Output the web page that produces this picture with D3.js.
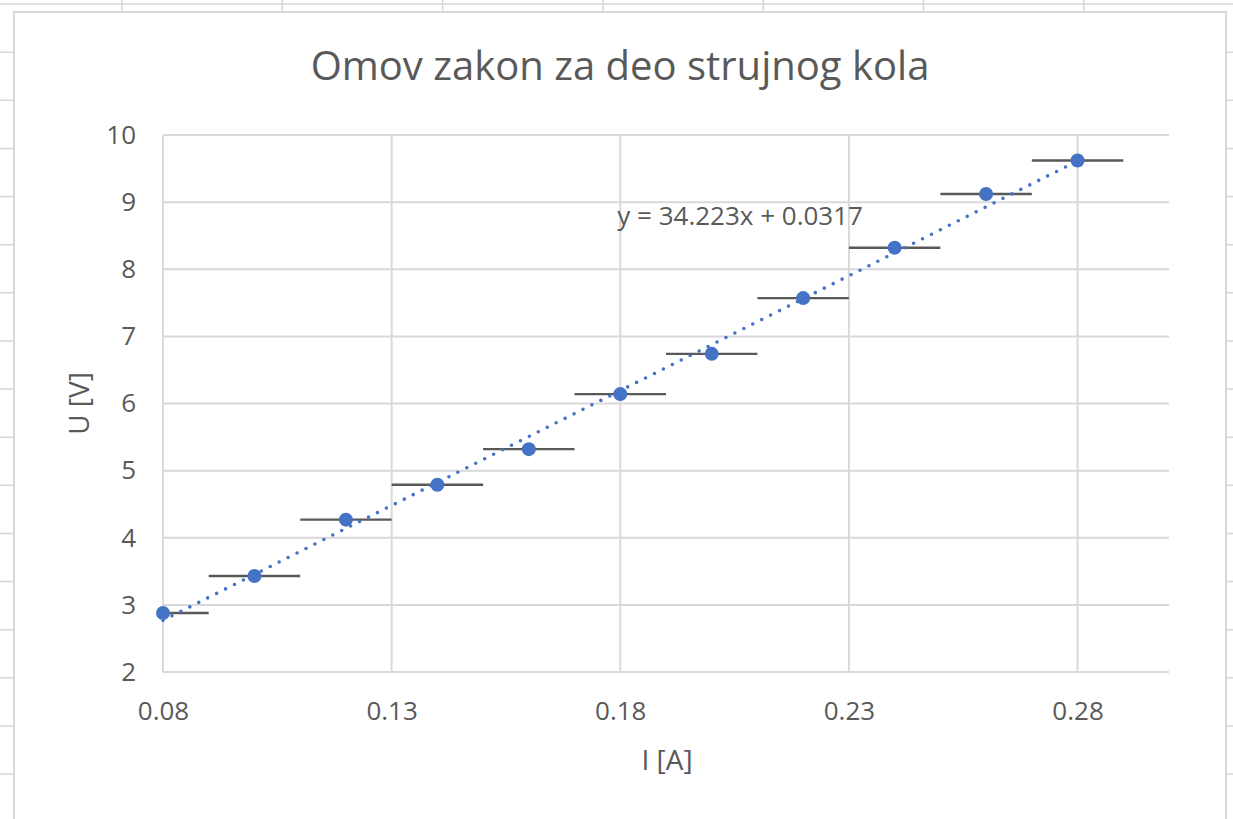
<!DOCTYPE html>
<html>
<head>
<meta charset="utf-8">
<script src="https://cdn.jsdelivr.net/npm/d3@7"></script>
<style>
    body { margin: 0; background: #fff; }
    svg { display: block; }
    text { font-family: "Open Sans", "Noto Sans", sans-serif; fill: #595959; }
</style>
</head>
<body>
<svg id="canvas" width="1233" height="819"></svg>
<script>
// measured current I [A] and voltage U [V]
const currents = [0.08, 0.10, 0.12, 0.14, 0.16, 0.18, 0.20, 0.22, 0.24, 0.26, 0.28];
const voltages = [2.88, 3.43, 4.27, 4.79, 5.32, 6.14, 6.74, 7.57, 8.32, 9.12, 9.62];
const currentError = 0.01;

// linear trendline as reported by the spreadsheet
const trendSlope = 34.223;
const trendIntercept = 0.0317;

const xTicks = [0.08, 0.13, 0.18, 0.23, 0.28];
const yTicks = [2, 3, 4, 5, 6, 7, 8, 9, 10];

const W = 1233, H = 819;
const svg = d3.select('#canvas');

// spreadsheet cells behind the chart
const sheet = svg.append('g').attr('stroke', '#d6d6d6').attr('stroke-width', 1.5);
d3.range(0, 8).forEach(i => {
    const cx = 122 + i * 160.3;
    sheet.append('line').attr('x1', cx).attr('x2', cx).attr('y1', 0).attr('y2', H);
});
d3.range(0, 18).forEach(i => {
    const cy = 4 + i * 48.13;
    sheet.append('line').attr('x1', 0).attr('x2', W).attr('y1', cy).attr('y2', cy);
});

// chart box
svg.append('rect')
    .attr('x', 14).attr('y', 12)
    .attr('width', 1212).attr('height', 820)
    .attr('fill', '#fff')
    .attr('stroke', '#d9d9d9')
    .attr('stroke-width', 2);

const x = d3.scaleLinear().domain([0.08, 0.30]).range([163, 1169]);
const y = d3.scaleLinear().domain([2, 10]).range([672, 135]);

// gridlines
const grid = svg.append('g').attr('stroke', '#d9d9d9').attr('stroke-width', 2);
grid.selectAll('.hy').data(yTicks).enter().append('line')
    .attr('x1', x.range()[0]).attr('x2', x.range()[1])
    .attr('y1', d => y(d)).attr('y2', d => y(d));
grid.selectAll('.vx').data(xTicks).enter().append('line')
    .attr('x1', d => x(d)).attr('x2', d => x(d))
    .attr('y1', y.range()[0]).attr('y2', y.range()[1]);

// axes (labels only)
const xAxis = svg.append('g')
    .attr('transform', 'translate(0,' + y.range()[0] + ')')
    .call(d3.axisBottom(x).tickValues(xTicks).tickFormat(d3.format('.2f')).tickSize(0).tickPadding(30));
const yAxis = svg.append('g')
    .attr('transform', 'translate(' + x.range()[0] + ',0)')
    .call(d3.axisLeft(y).tickValues(yTicks).tickFormat(d3.format('d')).tickSize(0).tickPadding(27));
[xAxis, yAxis].forEach(a => {
    a.select('.domain').remove();
    a.selectAll('text').style('font-size', '26px').attr('fill', '#595959');
});

// data points
const points = currents.map((c, i) => ({ c: c, u: voltages[i] }));

// horizontal error bars, clipped to the plot area
svg.append('g').selectAll('line').data(points).enter().append('line')
    .attr('x1', d => x(Math.max(x.domain()[0], d.c - currentError)))
    .attr('x2', d => x(Math.min(x.domain()[1], d.c + currentError)))
    .attr('y1', d => y(d.u)).attr('y2', d => y(d.u))
    .attr('stroke', '#595959')
    .attr('stroke-width', 2.4);

// dotted trendline
const ends = d3.extent(currents);
svg.append('path')
    .datum(ends)
    .attr('d', d3.line().x(d => x(d)).y(d => y(trendSlope * d + trendIntercept)))
    .attr('fill', 'none')
    .attr('stroke', '#4472c4')
    .attr('stroke-width', 3.6)
    .attr('stroke-linecap', 'round')
    .attr('stroke-dasharray', '0 10');

// markers
svg.append('g').selectAll('circle').data(points).enter().append('circle')
    .attr('cx', d => x(d.c)).attr('cy', d => y(d.u))
    .attr('r', 7)
    .attr('fill', '#4472c4');

// trendline equation
svg.append('text')
    .attr('x', x(0.18) - 3).attr('y', y(8.66))
    .style('font-size', '26px')
    .text('y = ' + trendSlope + 'x + ' + trendIntercept);

// titles
svg.append('text')
    .attr('x', 620).attr('y', 80)
    .attr('text-anchor', 'middle')
    .style('font-size', '40px')
    .text('Omov zakon za deo strujnog kola');

svg.append('text')
    .attr('x', 667).attr('y', 770)
    .attr('text-anchor', 'middle')
    .style('font-size', '28px')
    .text('I [A]');

svg.append('text')
    .attr('transform', 'translate(89,' + d3.mean(y.range()) + ') rotate(-90)')
    .attr('text-anchor', 'middle')
    .style('font-size', '28px')
    .text('U [V]');
</script>
</body>
</html>
